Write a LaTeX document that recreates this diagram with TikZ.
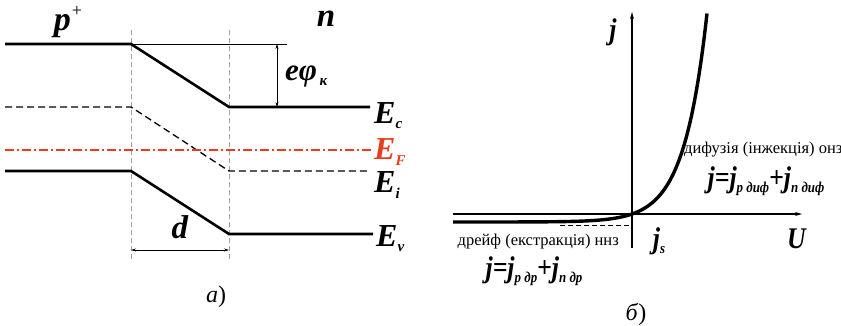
\documentclass[tikz,border=0pt]{standalone}
\usepackage{fontspec}
\setmainfont{Liberation Serif}
\newfontfamily\tallfont[FakeStretch=0.86]{Liberation Serif}
\usetikzlibrary{positioning,arrows.meta}
\definecolor{fermired}{RGB}{232,62,30}
\newcommand{\bi}[1]{\textbf{\textit{#1}}}
\newcommand{\sz}[1]{\fontsize{#1}{#1}\selectfont}
\newcommand{\lvl}[2]{\bi{#1}\raisebox{-0.35ex}{\sz{15}\bi{#2}}}

\begin{document}
\begin{tikzpicture}[x=1pt,y=-1pt,
  band/.style={line width=2.6pt},
  midlevel/.style={line width=1.3pt,dash pattern=on 7pt off 4pt},
  fermi/.style={fermired,line width=2pt,dash pattern=on 9pt off 3pt on 2pt off 3pt},
  border/.style={gray!75,line width=0.8pt,dash pattern=on 5pt off 3pt},
  dim/.style={line width=0.6pt,{Stealth[length=5pt,width=3pt]}-{Stealth[length=5pt,width=3pt]}},
  axis/.style={line width=1.4pt,-{Stealth[length=7pt,width=4pt]}},
  lbl/.style={inner sep=0pt,anchor=west},
  note/.style={inner sep=0pt,font=\sz{16.5}}]
  \useasboundingbox (0,0) rectangle (841,325);

  % a) band diagram
  \coordinate (wL) at (131,30);
  \coordinate (wR) at (229,30);
  \draw[border] (wL) -- (131,262);
  \draw[border] (wR) -- (229,262);

  \coordinate (c1) at (5,44);   \coordinate (c2) at (131,44);
  \coordinate (c3) at (229,107); \coordinate (c4) at (370,107);
  \coordinate (i1) at (5,107);  \coordinate (i2) at (131,107);
  \coordinate (i3) at (229,171); \coordinate (i4) at (370,171);
  \coordinate (v1) at (5,171);  \coordinate (v2) at (131,171);
  \coordinate (v3) at (229,234); \coordinate (v4) at (373,234);
  \coordinate (f1) at (5,150);  \coordinate (f2) at (372,150);

  \draw[band] (c1) -- (c2) -- (c3) -- (c4);
  \draw[midlevel] (i1) -- (i2) -- (i3) -- (i4);
  \draw[band] (v1) -- (v2) -- (v3) -- (v4);
  \draw[fermi] (f1) -- (f2);

  \node[lbl] (Ec) at (374,116) {\sz{32}\lvl{E}{c}};
  \node[lbl,text=fermired] (EF) at (374,152) {\sz{32}\lvl{E}{F}};
  \node[lbl] (Ei) at (374,185) {\sz{32}\lvl{E}{i}};
  \node[lbl] (Ev) at (376,239) {\sz{32}\lvl{E}{v}};

  \coordinate (top) at (287,44);
  \draw[line width=0.6pt] (c2) -- (top);
  \coordinate (h1) at (277,44);  \coordinate (h2) at (277,107);
  \draw[dim] (h1) -- (h2);
  \node[lbl] (phi) at (285,76) {\sz{31}\bi{eφ}\raisebox{-0.4ex}{\sz{15}\,\bi{к}}};

  \coordinate (d1) at (131,250); \coordinate (d2) at (229,250);
  \draw[dim] (d1) -- (d2);
  \node[inner sep=0pt] (d) at (180,227) {\sz{33}\bi{d}};

  \node[inner sep=0pt] (pp) at (68,22) {\sz{34}\bi{p}\kern1pt\raisebox{0.9ex}{\sz{18}+}};
  \node[inner sep=0pt] (nn) at (326,19) {\sz{33}\bi{n}};
  \node[inner sep=0pt] (capA) at (216,297) {\sz{24}\textit{a})};

  % b) current-voltage curve
  \coordinate (O) at (632,214);
  \coordinate (xs) at (453,214); \coordinate (xe) at (802,214);
  \coordinate (ys) at (632,248); \coordinate (ye) at (632,12);
  \draw[axis] (xs) -- (xe);
  \draw[axis] (ys) -- (ye);
  \coordinate (js1) at (560,225);
  \draw[line width=0.8pt,dash pattern=on 5pt off 3pt] (js1) -- (O |- js1);
  \draw[line width=3.4pt] plot[domain=-179:75,samples=120,smooth]
    ({632+\x},{214-8*(exp(\x/23)-1)});

  \node[inner sep=0pt] (jax) at (613,32) {\sz{30}\tallfont\bi{j}};
  \node[inner sep=0pt] (U) at (797,239) {\sz{30}\tallfont\bi{U}};
  \node[inner sep=0pt] (js) at (659,241) {\sz{30}\tallfont\lvl{j}{s}};

  \node[note,anchor=west] (dif) at (684,150) {дифузія (інжекція) онз};
  \node[inner sep=0pt] (jdif) at (766,181)
    {\sz{30}\tallfont\bi{j=}\lvl{j}{p диф}\bi{+}\lvl{j}{n диф}};
  \node[note,anchor=east] (drf) at (619,242) {дрейф (екстракція) ннз};
  \node[inner sep=0pt] (jdr) at (534,271)
    {\sz{30}\tallfont\bi{j=}\lvl{j}{p др}\bi{+}\lvl{j}{n др}};
  \node[inner sep=0pt] (capB) at (636,314) {\sz{24}\textit{б})};
\end{tikzpicture}
\end{document}
